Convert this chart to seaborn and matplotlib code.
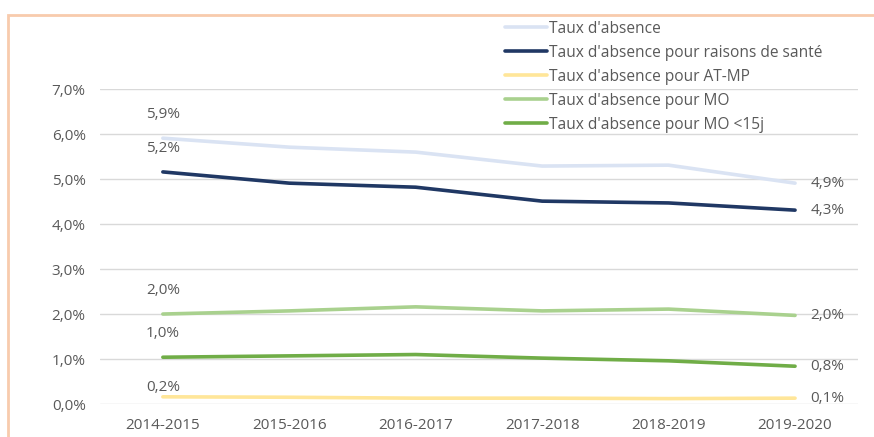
import pandas as pd
import numpy as np
import matplotlib.pyplot as plt
import seaborn as sns
from matplotlib.patches import Rectangle

# data (fractions)
years = ['2014-2015', '2015-2016', '2016-2017', '2017-2018', '2018-2019', '2019-2020']
series_names = ["Taux d'absence",
                "Taux d'absence pour raisons de santé",
                "Taux d'absence pour AT-MP",
                "Taux d'absence pour MO",
                "Taux d'absence pour MO <15j"]
taux_absence = [0.0591, 0.0571, 0.0560, 0.0529, 0.0531, 0.0491]
taux_sante = [0.0516, 0.0491, 0.0482, 0.0451, 0.0447, 0.0431]
taux_atmp = [0.0016, 0.0015, 0.0013, 0.0013, 0.0012, 0.0013]
taux_mo = [0.0200, 0.0207, 0.0216, 0.0207, 0.0211, 0.0197]
taux_mo15 = [0.0104, 0.0107, 0.0110, 0.0102, 0.0096, 0.0084]

colors = ['#DAE3F3', '#203864', '#FFE699', '#A9D18E', '#70AD47']

values = [taux_absence, taux_sante, taux_atmp, taux_mo, taux_mo15]
df = pd.concat([pd.DataFrame({'annee': years, 'taux': v, 'serie': n})
                for n, v in zip(series_names, values)], ignore_index=True)

sns.set_style('white')
plt.rcParams['font.family'] = ['Open Sans', 'DejaVu Sans']
txt = '#595959'

fig = plt.figure(figsize=(8.74, 4.37), dpi=100)
ax = fig.add_axes([0.114, 0.0755, 0.868, 0.7205])

sns.lineplot(data=df, x='annee', y='taux', hue='serie', palette=dict(zip(series_names, colors)),
             hue_order=series_names, sort=False, linewidth=2.6, ax=ax, legend=False)

ax.set_xlim(-0.5, len(years) - 0.5)
ax.set_ylim(0, 0.07)
ax.set_yticks(np.arange(0, 0.0701, 0.01))
ax.set_yticklabels([('%.1f%%' % (t * 100)).replace('.', ',') for t in ax.get_yticks()])
ax.grid(axis='y', color='#D9D9D9', linewidth=1)
ax.grid(axis='x', visible=False)
for s in ax.spines.values():
    s.set_visible(False)
ax.tick_params(axis='both', length=0, labelsize=11, labelcolor=txt)
ax.tick_params(axis='y', pad=10)
ax.tick_params(axis='x', pad=10)
ax.set_xlabel('')
ax.set_ylabel('')

def fmt(v):
    return ('%.1f%%' % (v * 100)).replace('.', ',')

# offsets in points (dpi 100 -> 1 pt = 1.39 px)
first_off = [17, 17, 7, 17, 17]
for v, off in zip(values, first_off):
    ax.annotate(fmt(v[0]), (0, v[0]), xytext=(0, off), textcoords='offset points',
                ha='center', va='center', fontsize=11, color=txt)
    ax.annotate(fmt(v[-1]), (len(years) - 1, v[-1]), xytext=(11, 0), textcoords='offset points',
                ha='left', va='center', fontsize=11, color=txt)

handles = [plt.Line2D([], [], color=c, linewidth=2.6) for c in colors]
fig.legend(handles, series_names, loc='upper left', bbox_to_anchor=(0.562, 0.985),
           frameon=False, fontsize=11.2, handlelength=2.7, handletextpad=0.1,
           labelspacing=0.52, labelcolor=txt)

fig.patches.append(Rectangle((0.009, -0.05), 1.2, 1.05 - 15 / 437, transform=fig.transFigure,
                             fill=False, edgecolor='#F8CBAD', linewidth=2))

fig.savefig('out.png', dpi=100)
